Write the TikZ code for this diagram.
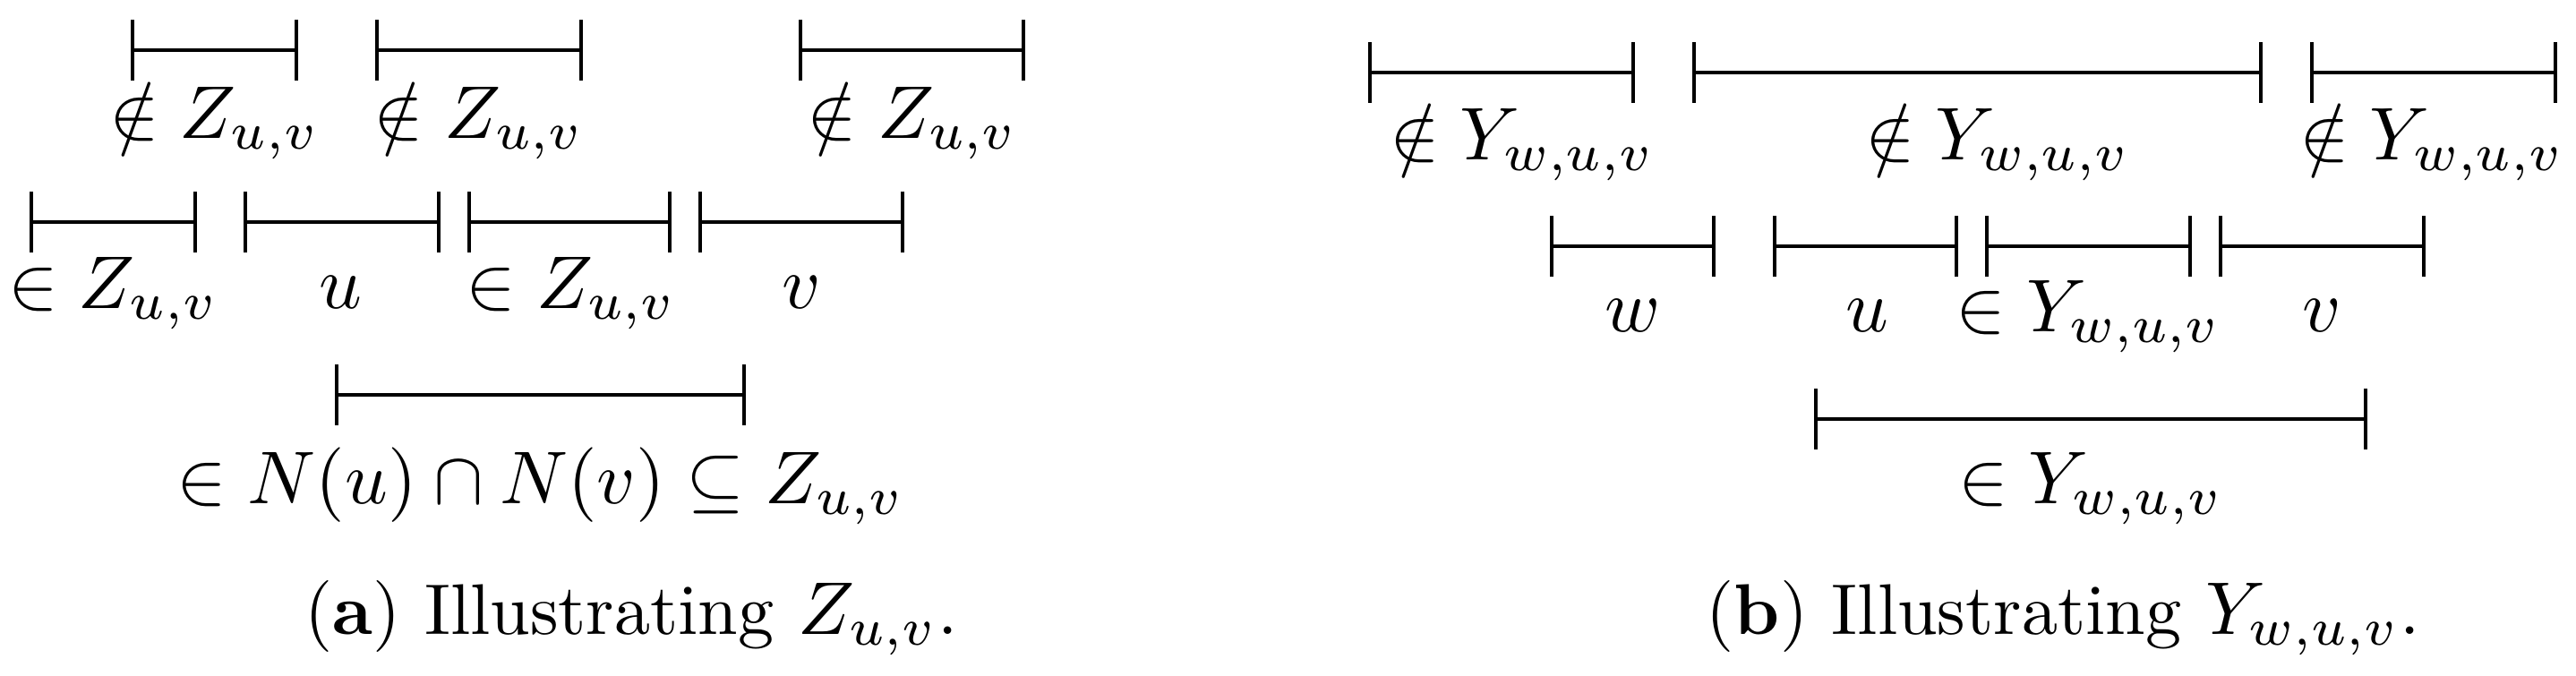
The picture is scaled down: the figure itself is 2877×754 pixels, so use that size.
\documentclass[tikz,border=0pt]{standalone}
\usepackage{amsmath,amssymb}
\newcommand\ivlseg[3]{% x1, x2, y
  \draw[ivlline] (#1,#3-34) -- (#1,#3+34) (#1,#3) -- (#2,#3) (#2,#3-34) -- (#2,#3+34);}
\begin{document}
\begin{tikzpicture}[x=0.11976pt,y=-0.11976pt,
  ivlline/.style={line width=0.55pt},
  lbl/.style={anchor=base,inner sep=0pt},
  capt/.style={anchor=base,inner sep=0pt,font=\fontsize{9.6}{11}\selectfont}]
\useasboundingbox (0,0) rectangle (2877,754);
% ---------- (a) ----------
\ivlseg{148}{331}{56}  \node[lbl] (a1) at (239.5,154) {$\notin Z_{u,v}$};
\ivlseg{421}{649}{56}  \node[lbl] (a2) at (535,154) {$\notin Z_{u,v}$};
\ivlseg{894}{1143}{56} \node[lbl] (a3) at (1019,154) {$\notin Z_{u,v}$};
\ivlseg{35}{218}{248}  \node[lbl] (a4) at (126.5,344) {$\in Z_{u,v}$};
\ivlseg{274}{490}{248} \node[lbl] (a5) at (380,344) {$u$};
\ivlseg{524}{748}{248} \node[lbl] (a6) at (638,344) {$\in Z_{u,v}$};
\ivlseg{782}{1008}{248} \node[lbl] (a7) at (895,344) {$v$};
\ivlseg{376}{831}{441} \node[lbl] (a8) at (604,562) {$\in N(u)\cap N(v)\subseteq Z_{u,v}$};
\node[capt] (capa) at (705,708) {(\textbf{a}) Illustrating $Z_{u,v}$.};
% ---------- (b) ----------
\ivlseg{1530}{1824}{81} \node[lbl] (b1) at (1700,178) {$\notin Y_{w,u,v}$};
\ivlseg{1892}{2525}{81} \node[lbl] (b2) at (2231,178) {$\notin Y_{w,u,v}$};
\ivlseg{2582}{2854}{81} \node[lbl] (b3) at (2716,178) {$\notin Y_{w,u,v}$};
\ivlseg{1733}{1914}{275} \node[lbl] (b4) at (1823,370) {$w$};
\ivlseg{1982}{2185}{275} \node[lbl] (b5) at (2085,370) {$u$};
\ivlseg{2219}{2446}{275} \node[lbl] (b6) at (2332.5,370) {$\in Y_{w,u,v}$};
\ivlseg{2480}{2707}{275} \node[lbl] (b7) at (2593.5,370) {$v$};
\ivlseg{2028}{2642}{468} \node[lbl] (b8) at (2335,562) {$\in Y_{w,u,v}$};
\node[capt] (capb) at (2304,708) {(\textbf{b}) Illustrating $Y_{w,u,v}$.};
\end{tikzpicture}
\end{document}
